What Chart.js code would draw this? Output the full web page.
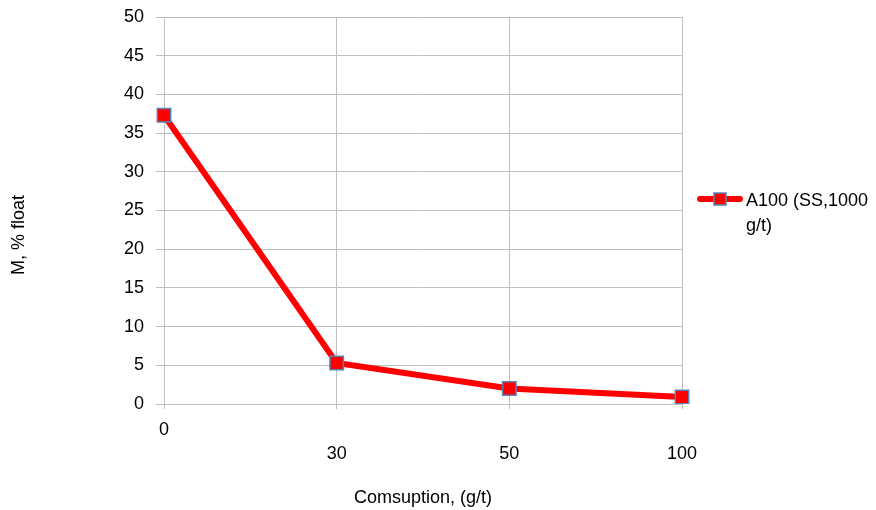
<!DOCTYPE html>
<html>
<head>
<meta charset="utf-8">
<script src="https://cdn.jsdelivr.net/npm/chart.js@4"></script>
<style>
  html, body { margin: 0; padding: 0; background: #fff; }
  #wrap { width: 876px; height: 510px; }
</style>
</head>
<body>
<div id="wrap"><canvas id="myChart" width="876" height="510"></canvas></div>
<script>
// values
const consumption = ['0', '30', '50', '100'];
const floatM = [37.3, 5.3, 2.0, 0.9];
const seriesName = ['A100 (SS,1000', 'g/t)'];
const xTitle = 'Comsuption, (g/t)';
const yTitle = 'M, % float';

const fontFamily = '"Liberation Sans", Arial, sans-serif';
const gridColor = '#bfbfbf';

// Excel staggered the labels: first one on line 1, rest on line 2
const xLabels = consumption.map((c, i) => i === 0 ? [c] : ['', c]);

// legend and y title drawn by hand so they sit where Excel put them
const extras = {
    id: 'extras',
    afterDraw(chart) {
        const ctx = chart.ctx;
        const ds = chart.data.datasets[0];
        const y = 199;
        ctx.save();
        ctx.strokeStyle = ds.borderColor;
        ctx.lineWidth = ds.borderWidth;
        ctx.lineCap = 'round';
        ctx.beginPath();
        ctx.moveTo(700, y);
        ctx.lineTo(740, y);
        ctx.stroke();
        ctx.fillStyle = ds.pointBackgroundColor;
        ctx.strokeStyle = ds.pointBorderColor;
        ctx.lineWidth = 1.5;
        ctx.fillRect(714, y - 6, 12, 12);
        ctx.strokeRect(714, y - 6, 12, 12);

        ctx.fillStyle = '#000';
        ctx.font = '18px ' + fontFamily;
        ctx.textBaseline = 'middle';
        ctx.textAlign = 'left';
        seriesName.forEach((line, i) => ctx.fillText(line, 746, y + 2 + i * 25));

        // y axis title
        ctx.translate(19, 235);
        ctx.rotate(-Math.PI / 2);
        ctx.textAlign = 'center';
        ctx.fillText(yTitle, 0, 0);
        ctx.restore();
    }
};

const ctx = document.getElementById('myChart').getContext('2d');
new Chart(ctx, {
    type: 'line',
    data: {
        labels: xLabels,
        datasets: [{
            label: seriesName.join(' '),
            data: floatM,
            borderColor: '#ff0000',
            borderWidth: 6,
            tension: 0,
            pointStyle: 'rect',
            pointRadius: 9.5,
            pointBackgroundColor: '#ff0000',
            pointBorderColor: '#5a82b8',
            pointBorderWidth: 1.5
        }]
    },
    options: {
        responsive: false,
        animation: false,
        layout: { padding: { left: 0, right: 194, top: 17, bottom: 0 } },
        plugins: {
            legend: { display: false },
            tooltip: { enabled: false }
        },
        scales: {
            x: {
                offset: false,
                afterFit: (scale) => { scale.height = 106; },
                grid: { color: gridColor, lineWidth: 1, tickLength: 5 },
                border: { color: gridColor, width: 1 },
                ticks: {
                    autoSkip: false,
                    maxRotation: 0,
                    padding: 9,
                    color: '#000',
                    font: { family: fontFamily, size: 18, lineHeight: 1.35 }
                },
                title: {
                    display: true,
                    text: xTitle,
                    color: '#000',
                    padding: { top: 0, bottom: 1 },
                    font: { family: fontFamily, size: 18 }
                }
            },
            y: {
                min: 0,
                max: 50,
                afterFit: (scale) => {
                    scale.width = 164;
                    scale.paddingTop = 0;
                    scale.paddingBottom = 0;
                },
                grid: { color: gridColor, lineWidth: 1, tickLength: 8 },
                border: { color: gridColor, width: 1 },
                ticks: {
                    stepSize: 5,
                    padding: 12,
                    color: '#000',
                    font: { family: fontFamily, size: 18 }
                }
            }
        }
    },
    plugins: [extras]
});
</script>
</body>
</html>
